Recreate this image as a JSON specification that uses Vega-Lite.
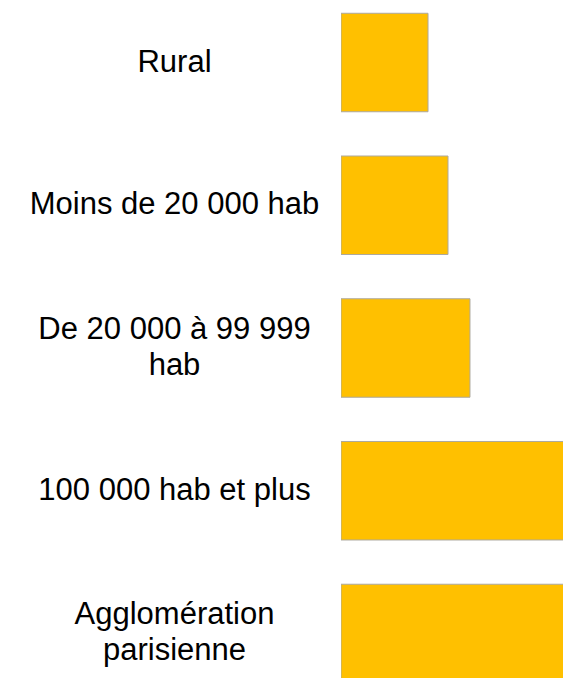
{
  "$schema": "https://vega.github.io/schema/vega-lite/v6.json",
  "autosize": {"type": "none"},
  "padding": {"left": 341, "top": 0, "right": 0, "bottom": 0},
  "width": 222,
  "height": 678,
  "background": "white",
  "config": {"view": {"stroke": null}},
  "data": {
    "values": [
      {"categorie": "Rural", "valeur": 39.2},
      {"categorie": "Moins de 20 000 hab", "valeur": 48.2},
      {"categorie": "De 20 000 à 99 999 hab", "valeur": 58.1},
      {"categorie": "100 000 hab et plus", "valeur": 115},
      {"categorie": "Agglomération parisienne", "valeur": 125}
    ]
  },
  "mark": {"type": "bar", "fill": "#FFC000", "stroke": "#ADA99E", "strokeWidth": 1, "clip": true},
  "encoding": {
    "y": {
      "field": "categorie",
      "type": "nominal",
      "sort": null,
      "scale": {"range": [0, 696], "paddingInner": 0.31, "paddingOuter": 0.093},
      "axis": {
        "title": null,
        "ticks": false,
        "domain": false,
        "labelPadding": 167,
        "labelAlign": "center",
        "labelBaseline": "middle",
        "labelFont": "Liberation Sans",
        "labelFontSize": 31,
        "labelColor": "#000000",
        "labelLimit": 0,
        "labelLineHeight": 36,
        "labelOffset": {"condition": {"test": "datum.label == 'De 20 000 à 99 999 hab' || datum.label == 'Agglomération parisienne'", "value": -18}, "value": 0},
        "labelExpr": "datum.label == 'De 20 000 à 99 999 hab' ? ['De 20 000 à 99 999', 'hab'] : datum.label == 'Agglomération parisienne' ? ['Agglomération', 'parisienne'] : datum.label"
      }
    },
    "x": {
      "field": "valeur",
      "type": "quantitative",
      "scale": {"domain": [0, 100]},
      "axis": null
    }
  }
}
